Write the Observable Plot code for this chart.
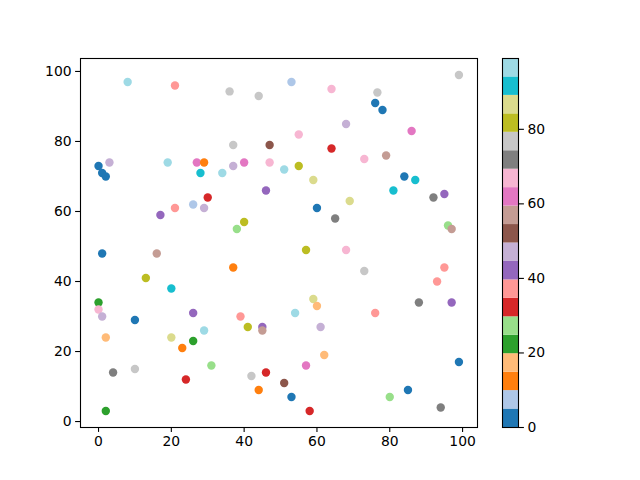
<!DOCTYPE html>
<html>
<head>
<meta charset="utf-8">
<script src="https://cdn.jsdelivr.net/npm/d3@7"></script>
<script src="https://cdn.jsdelivr.net/npm/@observablehq/plot@0.6"></script>
<style>
  html, body { margin: 0; padding: 0; background: #fff; }
  #wrap { position: relative; width: 640px; height: 480px; font-family: "DejaVu Sans", sans-serif; }
  #wrap > svg { position: absolute; left: 0; top: 0; }
</style>
</head>
<body>
<div id="wrap"></div>
<script>
// Data
const xs = [8, 21, 36, 44, 53, 64, 76.6, 99, 76, 78, 0, 1, 2, 3, 19, 27, 29, 28, 37, 47,
            55, 64, 37, 40, 47, 51, 55, 59, 34, 68, 86, 73, 79, 84, 87, 30, 26, 29, 21, 17,
            1, 16, 13, 20, 0, 0, 26, 46, 60, 65, 40, 38, 57, 68, 37, 59, 60, 54, 81, 69,
            92, 95, 96, 97, 73, 95, 93, 88, 97, 76, 1, 10, 2, 20, 29, 26, 23, 31, 4, 10,
            24, 2, 39, 41, 45, 45, 61, 62, 57, 42, 46, 51, 44, 53, 58, 99, 85, 80, 94];
const ys = [97, 96, 94.3, 93, 97, 95, 94, 99, 91, 89, 73, 71, 70, 74, 74, 74, 74, 71, 79, 79,
            82, 78, 73, 74, 74, 72, 73, 69, 71, 85, 83, 75, 76, 70, 69, 64, 62, 61, 61, 59,
            48, 48, 41, 38, 34, 32, 31, 66, 61, 58, 57, 55, 49, 49, 44, 35, 33, 31, 66, 63,
            64, 65, 56, 55, 43, 44, 40, 34, 34, 31, 30, 29, 24, 24, 26, 23, 21, 16, 14, 15,
            12, 3, 30, 27, 27, 26, 27, 19, 16, 13, 14, 11, 9, 7, 3, 17, 9, 7, 4];
const cs = [97, 37, 77, 77, 7, 67, 77, 77, 2, 2, 2, 2, 2, 47, 97, 62, 12, 92, 77, 52,
            67, 32, 47, 62, 67, 97, 82, 87, 97, 47, 62, 67, 57, 2, 92, 32, 7, 47, 37, 42,
            2, 57, 82, 92, 22, 67, 42, 42, 2, 72, 82, 27, 82, 67, 12, 87, 17, 97, 92, 87,
            72, 42, 27, 57, 77, 37, 37, 72, 42, 37, 47, 2, 17, 87, 97, 22, 12, 27, 72, 77,
            32, 22, 37, 82, 42, 57, 47, 17, 62, 77, 32, 52, 12, 2, 32, 2, 2, 27, 72];
const xTicks = [0, 20, 40, 60, 80, 100];
const yTicks = [0, 20, 40, 60, 80, 100];
const cbTicks = [0, 20, 40, 60, 80];
const cMin = 0, cMax = 99;

// Styling: matplotlib tab20 colormap
const tab20 = ["#1f77b4","#aec7e8","#ff7f0e","#ffbb78","#2ca02c","#98df8a","#d62728","#ff9896",
               "#9467bd","#c5b0d5","#8c564b","#c49c94","#e377c2","#f7b6d2","#7f7f7f","#c7c7c7",
               "#bcbd22","#dbdb8d","#17becf","#9edae5"];
const nBins = tab20.length;
const step = (cMax - cMin) / nBins;
const colorScale = {
  type: "threshold",
  domain: d3.range(1, nBins).map(i => cMin + i * step),
  range: tab20
};

const points = xs.map((x, i) => ({x, y: ys[i], c: cs[i]}));
const bins = d3.range(nBins).map(i => ({y1: cMin + i * step, y2: cMin + (i + 1) * step, c: cMin + (i + 0.5) * step}));

const font = {fontFamily: "DejaVu Sans, sans-serif", fontSize: "13.9px"};

const main = Plot.plot({
  width: 640, height: 480,
  marginLeft: 80, marginRight: 163, marginTop: 58, marginBottom: 53,
  style: {...font, background: "transparent", color: "black"},
  x: {domain: [-4.95, 104.1], label: null},
  y: {domain: [-1.7, 103.7], label: null},
  color: colorScale,
  marks: [
    Plot.dot(points, {x: "x", y: "y", fill: "c", r: 4.2, stroke: null}),
    Plot.axisX({ticks: xTicks, tickSize: 4.9, tickPadding: 4, tickFormat: d => d, stroke: "black", strokeWidth: 1.1, fill: "black"}),
    Plot.axisY({ticks: yTicks, tickSize: 4.9, tickPadding: 4, tickFormat: d => d, stroke: "black", strokeWidth: 1.1, fill: "black"}),
    Plot.frame({stroke: "black", strokeWidth: 1.1})
  ]
});

const cbar = Plot.plot({
  width: 640, height: 480,
  marginLeft: 502, marginRight: 122, marginTop: 58, marginBottom: 53,
  style: {...font, background: "transparent", color: "black"},
  x: {domain: [0, 1], axis: null},
  y: {domain: [cMin, cMax], label: null},
  color: colorScale,
  marks: [
    Plot.rectY(bins, {x1: 0, x2: 1, y1: "y1", y2: "y2", fill: "c", inset: 0}),
    Plot.axisY({anchor: "right", ticks: cbTicks, tickSize: 4.9, tickPadding: 4, tickFormat: d => d, stroke: "black", strokeWidth: 1.1, fill: "black"}),
    Plot.frame({stroke: "black", strokeWidth: 1.1})
  ]
});

const wrap = document.getElementById("wrap");
wrap.appendChild(main);
wrap.appendChild(cbar);
</script>
</body>
</html>
